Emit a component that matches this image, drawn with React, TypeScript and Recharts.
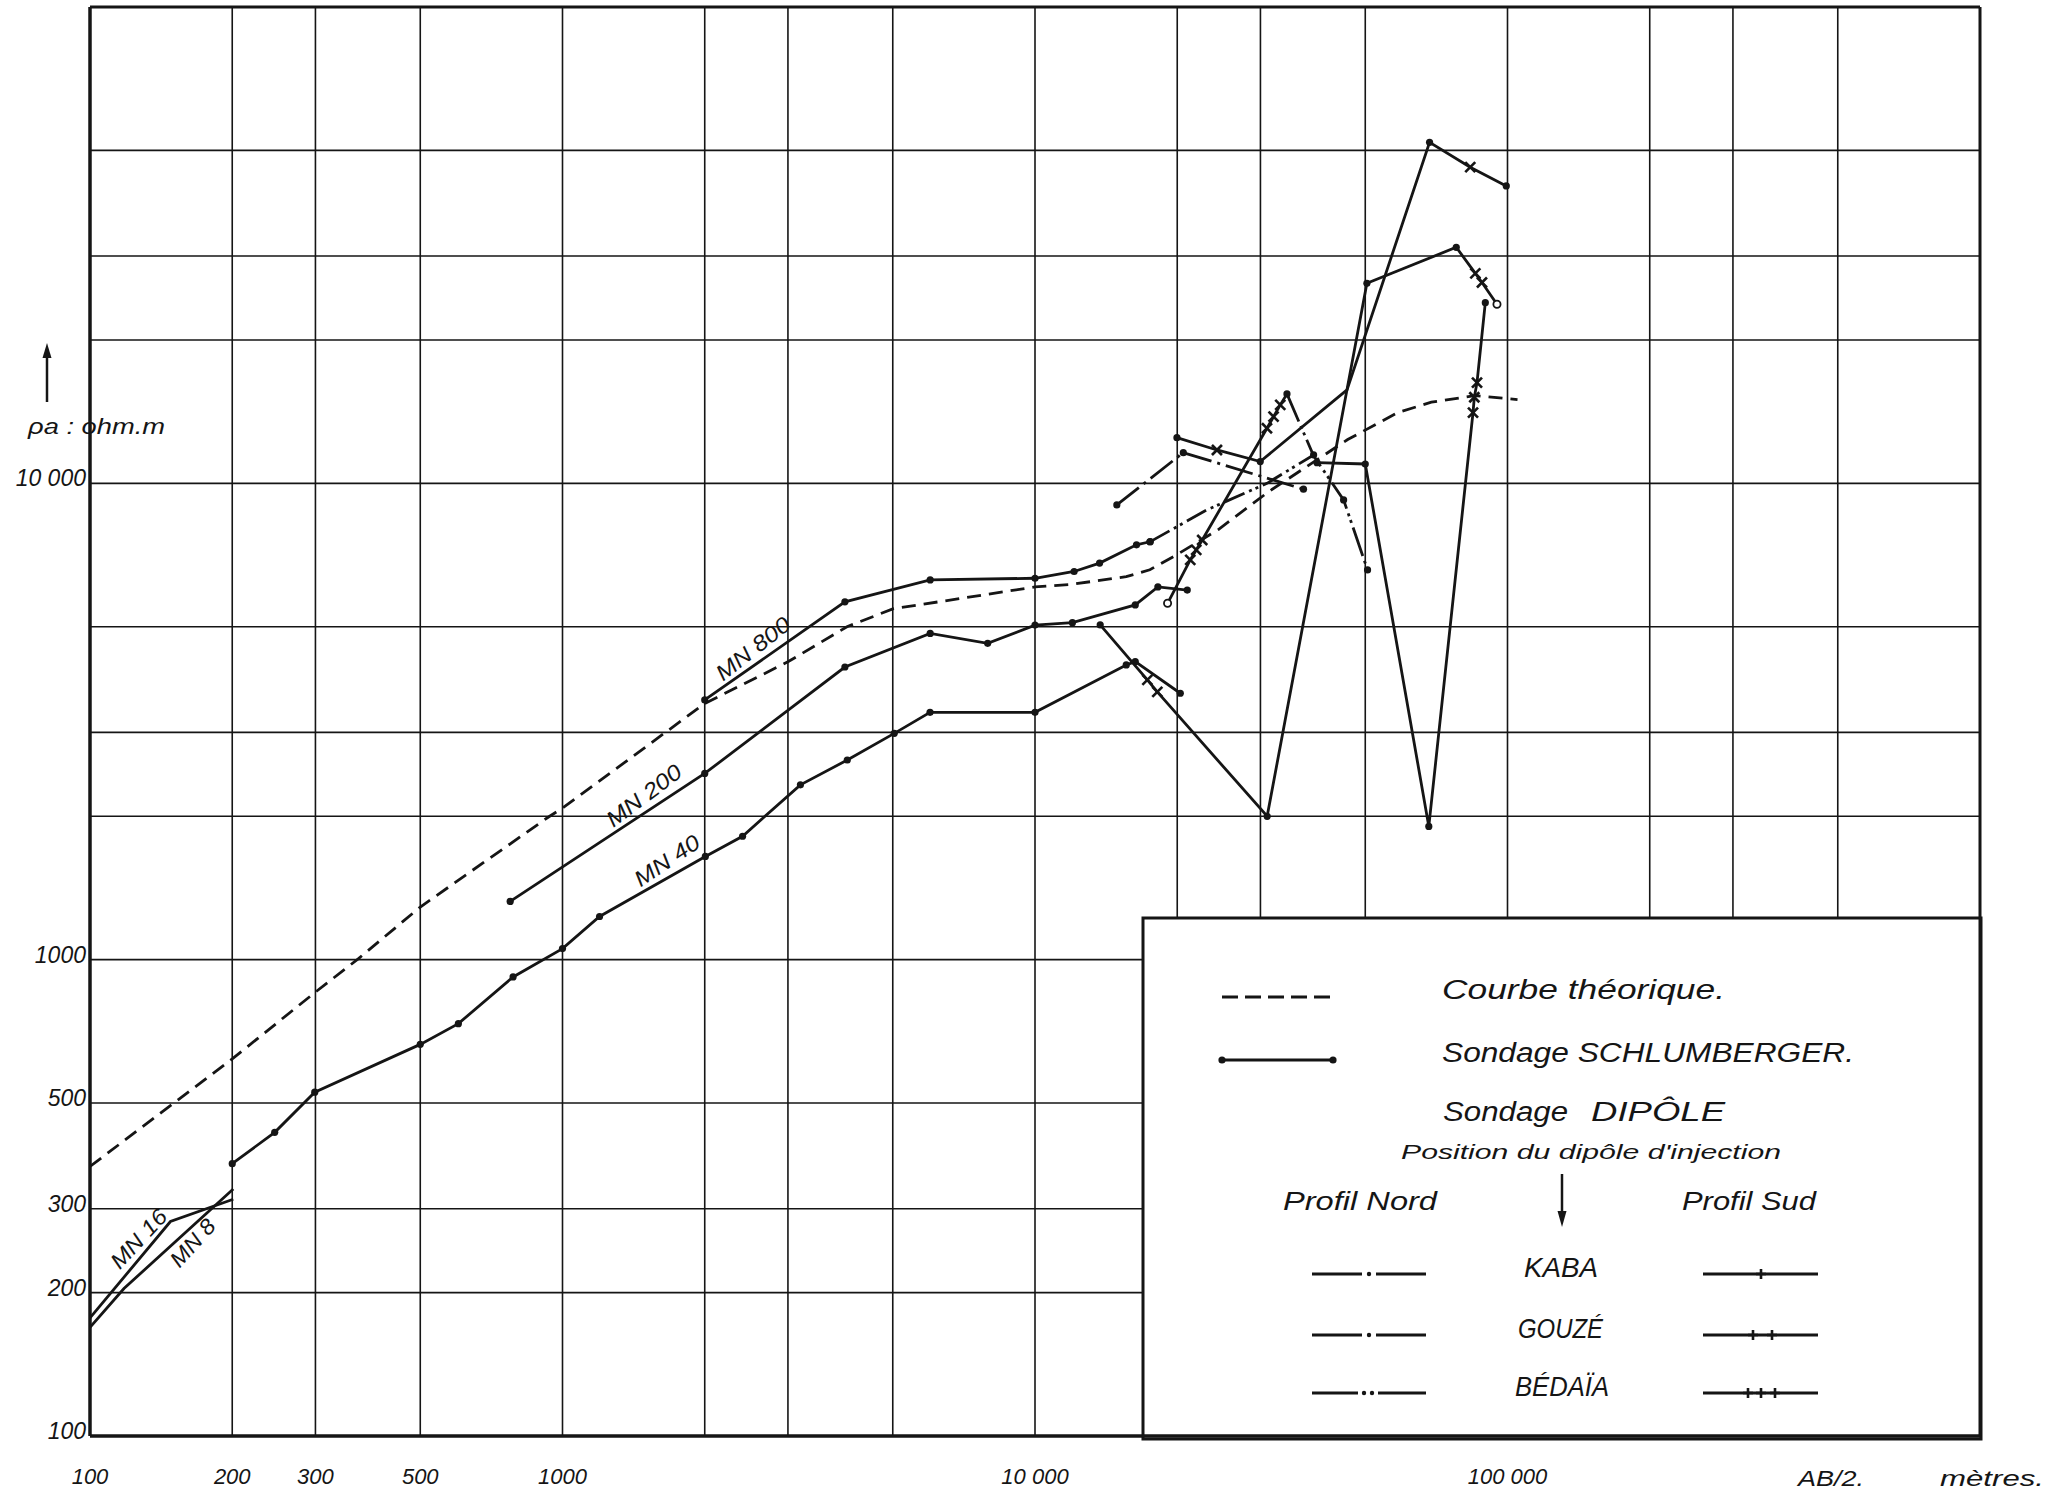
import React from 'react';
import { LineChart, Line, XAxis, YAxis, CartesianGrid, ReferenceLine, Customized } from 'recharts';

// ---------- axes ----------
const GRID_X = [100, 200, 300, 500, 1000, 2000, 3000, 5000, 10000, 20000, 30000, 50000, 100000, 200000, 300000, 500000, 1000000];
const GRID_Y = [100, 200, 300, 500, 1000, 2000, 3000, 5000, 10000, 20000, 30000, 50000, 100000];
const X_LABEL_VALUES = [100, 200, 300, 500, 1000, 10000, 100000];
const X_LABEL_TEXT = ['100', '200', '300', '500', '1000', '10 000', '100 000'];
const Y_LABEL_VALUES = [100, 200, 300, 500, 1000, 10000];
const Y_LABEL_TEXT = ['100', '200', '300', '500', '1000', '10 000'];

// ---------- Courbe théorique ----------
const THEORY_X = [100, 200, 300, 370, 500, 934, 1000, 2000, 3000, 4000, 5000, 10000, 12000, 15600, 17500, 19900, 24400, 31200, 45900, 58700, 69000, 85200, 105000];
const THEORY_Y = [368, 619, 855, 1005, 1290, 1993, 2080, 3450, 4220, 5000, 5450, 6060, 6140, 6370, 6585, 7070, 7990, 9600, 12360, 14090, 14800, 15280, 14990];

// ---------- Sondages Schlumberger ----------
const MN800_X = [2000, 3960, 6000, 10000, 12100, 13700, 16400, 17500];
const MN800_Y = [3510, 5640, 6270, 6320, 6530, 6800, 7430, 7540];
const MN200_X = [775, 2000, 3960, 6000, 7940, 10000, 12000, 16300, 18200, 21000];
const MN200_Y = [1325, 2460, 4115, 4840, 4614, 5040, 5100, 5555, 6060, 5970];
const MN40_X = [200, 246, 299, 500, 602, 786, 1000, 1198, 2006, 2405, 3188, 4006, 5037, 5996, 10000, 15600, 16300, 20300];
const MN40_Y = [373, 434, 527, 664, 734, 920, 1055, 1232, 1647, 1816, 2328, 2625, 2986, 3306, 3306, 4157, 4225, 3625];
const MN16_X = [100, 148, 201];
const MN16_Y = [177, 282, 314];
const MN8_X = [100, 118, 201];
const MN8_Y = [169, 204, 330];

// ---------- Sondages dipôle ----------
const NORD1_X = [14900, 20600, 37000];
const NORD1_Y = [9010, 11600, 9720];
const NORD1_M = ['o', 'o', 'o'];

const KABA_SUD_X = [19970, 24270, 29970, 45740, 68400, 83400, 99400];
const KABA_SUD_Y = [12470, 11750, 11110, 15710, 52000, 46100, 42100];
const KABA_SUD_M = ['o', 'x', 'o', '', 'o', 'x', 'o'];

const GOUZE_SUD_X = [13740, 17290, 18150, 31000, 50400, 77900, 85500, 88300, 95000];
const GOUZE_SUD_Y = [5044, 3866, 3648, 2000, 26300, 31300, 27600, 26400, 23770];
const GOUZE_SUD_M = ['o', 'x', 'x', 'o', 'o', 'o', 'x', 'x', 'c'];

const BEDAIA_SUD_X = [19080, 21310, 21940, 22590, 30970, 31980, 33040, 34140];
const BEDAIA_SUD_Y = [5600, 6906, 7248, 7605, 13050, 13800, 14610, 15410];
const BEDAIA_SUD_M = ['c', 'x', 'x', 'x', 'x', 'x', 'x', 'o'];

const BEDAIA_NORD_X = [34140, 38870, 44990, 50560];
const BEDAIA_NORD_Y = [15410, 11420, 9231, 6580];
const BEDAIA_NORD_M = ['', '', 'o', 'o'];

const NORD2_X = [17540, 23110, 30970, 38870];
const NORD2_Y = [7544, 8796, 10000, 11470];
const NORD2_M = ['o', '', '', 'o'];

const SUD3_X = [39520, 50000, 68150, 84530, 85070, 86190, 89750];
const SUD3_Y = [11050, 10980, 1904, 14070, 15160, 16270, 23950];
const SUD3_M = ['o', 'o', 'o', 'x', 'x', 'x', 'o'];

const mk = (xs: number[], ys: number[], marks?: string[]) =>
  xs.map((x, i) => ({ x, y: ys[i], m: marks ? marks[i] : 'o' }));
const none = (xs: number[]) => xs.map(() => '');

const INK = '#151515';
const FONT = "'Liberation Sans', 'DejaVu Sans', sans-serif";

const Mark = (props: any) => {
  const { cx, cy, payload } = props;
  if (cx == null || cy == null) return <g />;
  const m = payload ? payload.m : '';
  if (m === 'o') return <circle cx={cx} cy={cy} r={3.6} fill={INK} />;
  if (m === 'c') return <circle cx={cx} cy={cy} r={3.6} fill="#fff" stroke={INK} strokeWidth={1.8} />;
  if (m === 'x')
    return (
      <g stroke={INK} strokeWidth={2.6}>
        <line x1={cx - 5} y1={cy - 5} x2={cx + 5} y2={cy + 5} />
        <line x1={cx - 5} y1={cy + 5} x2={cx + 5} y2={cy - 5} />
      </g>
    );
  return <g />;
};

const XTick = (props: any) => {
  const { x, y, payload } = props;
  const i = X_LABEL_VALUES.indexOf(payload.value);
  if (i < 0) return <g />;
  return (
    <text x={x} y={y + 40} textAnchor="middle" fontSize={22} fontStyle="italic" fontFamily={FONT} fill={INK}>
      {X_LABEL_TEXT[i]}
    </text>
  );
};

const YTick = (props: any) => {
  const { x, y, payload } = props;
  const i = Y_LABEL_VALUES.indexOf(payload.value);
  if (i < 0) return <g />;
  return (
    <text x={x + 4} y={y + 3} textAnchor="end" fontSize={23} fontStyle="italic" fontFamily={FONT} fill={INK}>
      {Y_LABEL_TEXT[i]}
    </text>
  );
};

const Plus = ({ x, y }: { x: number; y: number }) => (
  <g stroke={INK} strokeWidth={2.6}>
    <line x1={x - 5} y1={y} x2={x + 5} y2={y} />
    <line x1={x} y1={y - 5} x2={x} y2={y + 5} />
  </g>
);

const MnLabel = ({ x, y, a, t, w }: { x: number; y: number; a: number; t: string; w: number }) => (
  <text
    x={x}
    y={y}
    transform={`rotate(${a} ${x} ${y})`}
    textAnchor="middle"
    dominantBaseline="middle"
    fontSize={22}
    textLength={w}
    lengthAdjust="spacingAndGlyphs"
  >
    {t}
  </text>
);

const Overlay = () => (
  <g fontFamily={FONT} fontStyle="italic" fill={INK}>
    {/* y axis title */}
    <line x1={47} y1={402} x2={47} y2={356} stroke={INK} strokeWidth={2.5} />
    <polygon points="47,343 42.5,358 51.5,358" fill={INK} />
    <text x={28} y={434} fontSize={22} textLength={137} lengthAdjust="spacingAndGlyphs">ρa : ohm.m</text>
    {/* x axis title */}
    <text x={1798} y={1486} fontSize={22} textLength={66} lengthAdjust="spacingAndGlyphs">AB/2.</text>
    <text x={1940} y={1486} fontSize={22} textLength={104} lengthAdjust="spacingAndGlyphs">mètres.</text>

    {/* curve labels */}
    <MnLabel x={754} y={650} a={-38} t="MN 800" w={88} />
    <MnLabel x={645} y={797} a={-37} t="MN 200" w={88} />
    <MnLabel x={668} y={862} a={-34} t="MN 40" w={74} />
    <MnLabel x={140} y={1240} a={-47} t="MN 16" w={72} />
    <MnLabel x={194} y={1244} a={-48} t="MN 8" w={56} />

    {/* legend */}
    <rect x={1143} y={918} width={838} height={521} fill="#fff" stroke={INK} strokeWidth={3} />
    <line x1={1222} y1={997} x2={1333} y2={997} stroke={INK} strokeWidth={3} strokeDasharray="16 7" />
    <text x={1442} y={999} fontSize={27} textLength={283} lengthAdjust="spacingAndGlyphs">Courbe  théorique.</text>

    <line x1={1222} y1={1060} x2={1333} y2={1060} stroke={INK} strokeWidth={3} />
    <circle cx={1222} cy={1060} r={3.6} fill={INK} />
    <circle cx={1333} cy={1060} r={3.6} fill={INK} />
    <text x={1442} y={1062} fontSize={27} textLength={412} lengthAdjust="spacingAndGlyphs">Sondage  SCHLUMBERGER.</text>

    <text x={1443} y={1121} fontSize={27} textLength={125} lengthAdjust="spacingAndGlyphs">Sondage</text>
    <text x={1591} y={1121} fontSize={28} textLength={134} lengthAdjust="spacingAndGlyphs">DIPÔLE</text>
    <text x={1401} y={1159} fontSize={21} textLength={380} lengthAdjust="spacingAndGlyphs">Position du dipôle d'injection</text>

    <text x={1283} y={1210} fontSize={25} textLength={154} lengthAdjust="spacingAndGlyphs">Profil Nord</text>
    <line x1={1562} y1={1174} x2={1562} y2={1212} stroke={INK} strokeWidth={2.5} />
    <polygon points="1562,1227 1557.5,1211 1566.5,1211" fill={INK} />
    <text x={1682} y={1210} fontSize={25} textLength={134} lengthAdjust="spacingAndGlyphs">Profil Sud</text>

    {/* KABA */}
    <line x1={1312} y1={1274} x2={1362} y2={1274} stroke={INK} strokeWidth={3} />
    <circle cx={1369} cy={1274} r={2.2} fill={INK} />
    <line x1={1376} y1={1274} x2={1426} y2={1274} stroke={INK} strokeWidth={3} />
    <text x={1524} y={1277} fontSize={28} textLength={74} lengthAdjust="spacingAndGlyphs">KABA</text>
    <line x1={1703} y1={1274} x2={1818} y2={1274} stroke={INK} strokeWidth={3} />
    <Plus x={1761} y={1274} />

    {/* GOUZÉ */}
    <line x1={1312} y1={1335} x2={1362} y2={1335} stroke={INK} strokeWidth={3} />
    <circle cx={1369} cy={1335} r={2.2} fill={INK} />
    <line x1={1376} y1={1335} x2={1426} y2={1335} stroke={INK} strokeWidth={3} />
    <text x={1518} y={1338} fontSize={28} textLength={85} lengthAdjust="spacingAndGlyphs">GOUZÉ</text>
    <line x1={1703} y1={1335} x2={1818} y2={1335} stroke={INK} strokeWidth={3} />
    <Plus x={1753} y={1335} />
    <Plus x={1772} y={1335} />

    {/* BÉDAÏA */}
    <line x1={1312} y1={1393} x2={1358} y2={1393} stroke={INK} strokeWidth={3} />
    <circle cx={1364} cy={1393} r={2.2} fill={INK} />
    <circle cx={1372} cy={1393} r={2.2} fill={INK} />
    <line x1={1378} y1={1393} x2={1426} y2={1393} stroke={INK} strokeWidth={3} />
    <text x={1515} y={1396} fontSize={28} textLength={94} lengthAdjust="spacingAndGlyphs">BÉDAÏA</text>
    <line x1={1703} y1={1393} x2={1818} y2={1393} stroke={INK} strokeWidth={3} />
    <Plus x={1748} y={1393} />
    <Plus x={1761} y={1393} />
    <Plus x={1775} y={1393} />
  </g>
);

const SW = 2.8;

export default function App() {
  return (
    <div style={{ position: 'absolute', left: 0, top: 0, width: 2065, height: 1494, background: '#fff' }}>
      <LineChart width={2065} height={1494} margin={{ top: 7, right: 85, bottom: 0, left: 0 }}>
        <CartesianGrid stroke={INK} strokeWidth={1.6} />
        <XAxis
          type="number"
          dataKey="x"
          scale="log"
          domain={[100, 1000000]}
          ticks={GRID_X}
          interval={0}
          allowDataOverflow
          height={58}
          axisLine={{ stroke: INK, strokeWidth: 3.5 }}
          tickLine={false}
          tick={<XTick />}
        />
        <YAxis
          type="number"
          dataKey="y"
          scale="log"
          domain={[100, 100000]}
          ticks={GRID_Y}
          interval={0}
          allowDataOverflow
          width={90}
          axisLine={{ stroke: INK, strokeWidth: 3.5 }}
          tickLine={false}
          tick={<YTick />}
        />
        <ReferenceLine x={1000000} stroke={INK} strokeWidth={3} />
        <ReferenceLine y={100000} stroke={INK} strokeWidth={3} />

        <Line data={mk(THEORY_X, THEORY_Y, none(THEORY_X))} dataKey="y" stroke={INK} strokeWidth={SW} strokeDasharray="14 8" dot={false} activeDot={false} isAnimationActive={false} />
        <Line data={mk(MN800_X, MN800_Y)} dataKey="y" stroke={INK} strokeWidth={SW} dot={Mark} activeDot={false} isAnimationActive={false} />
        <Line data={mk(MN200_X, MN200_Y)} dataKey="y" stroke={INK} strokeWidth={SW} dot={Mark} activeDot={false} isAnimationActive={false} />
        <Line data={mk(MN40_X, MN40_Y)} dataKey="y" stroke={INK} strokeWidth={SW} dot={Mark} activeDot={false} isAnimationActive={false} />
        <Line data={mk(MN16_X, MN16_Y)} dataKey="y" stroke={INK} strokeWidth={SW} dot={false} activeDot={false} isAnimationActive={false} />
        <Line data={mk(MN8_X, MN8_Y)} dataKey="y" stroke={INK} strokeWidth={SW} dot={false} activeDot={false} isAnimationActive={false} />

        <Line data={mk(NORD1_X, NORD1_Y, NORD1_M)} dataKey="y" stroke={INK} strokeWidth={SW} strokeDasharray="28 6 3 6" dot={Mark} activeDot={false} isAnimationActive={false} />
        <Line data={mk(NORD2_X, NORD2_Y, NORD2_M)} dataKey="y" stroke={INK} strokeWidth={SW} strokeDasharray="22 5 3 4 3 5" dot={Mark} activeDot={false} isAnimationActive={false} />
        <Line data={mk(BEDAIA_NORD_X, BEDAIA_NORD_Y, BEDAIA_NORD_M)} dataKey="y" stroke={INK} strokeWidth={SW} strokeDasharray="30 5 3 4 3 5" dot={Mark} activeDot={false} isAnimationActive={false} />
        <Line data={mk(KABA_SUD_X, KABA_SUD_Y, KABA_SUD_M)} dataKey="y" stroke={INK} strokeWidth={SW} dot={Mark} activeDot={false} isAnimationActive={false} />
        <Line data={mk(GOUZE_SUD_X, GOUZE_SUD_Y, GOUZE_SUD_M)} dataKey="y" stroke={INK} strokeWidth={SW} dot={Mark} activeDot={false} isAnimationActive={false} />
        <Line data={mk(BEDAIA_SUD_X, BEDAIA_SUD_Y, BEDAIA_SUD_M)} dataKey="y" stroke={INK} strokeWidth={SW} dot={Mark} activeDot={false} isAnimationActive={false} />
        <Line data={mk(SUD3_X, SUD3_Y, SUD3_M)} dataKey="y" stroke={INK} strokeWidth={SW} dot={Mark} activeDot={false} isAnimationActive={false} />

        <Customized component={Overlay} />
      </LineChart>
    </div>
  );
}
